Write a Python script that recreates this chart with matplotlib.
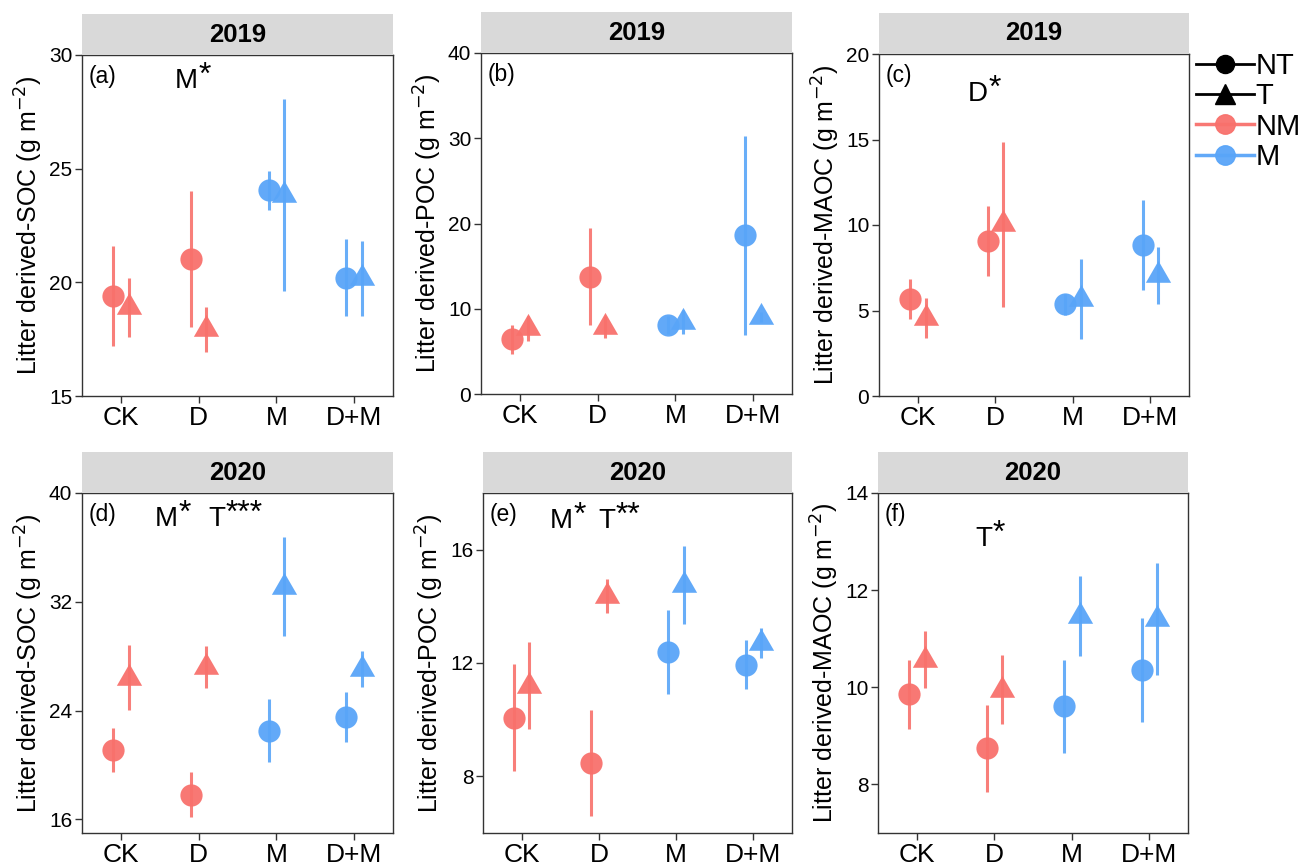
import matplotlib
matplotlib.use("Agg")
import matplotlib.pyplot as plt
from matplotlib.lines import Line2D
import numpy as np

plt.rcParams['font.family'] = ['Liberation Sans', 'DejaVu Sans']

categories = ["CK", "D", "M", "D+M"]
manure = ["NM", "NM", "M", "M"]  # colour group of each category

# panel (a) 2019 SOC
soc19_nt = [19.4, 21.03, 24.04, 20.21]
soc19_nt_se = [2.2, 2.98, 0.85, 1.69]
soc19_t = [18.9, 17.94, 23.84, 20.18]
soc19_t_se = [1.31, 0.99, 4.22, 1.66]
# panel (b) 2019 POC
poc19_nt = [6.43, 13.78, 8.1, 18.63]
poc19_nt_se = [1.7, 5.73, 1.1, 11.67]
poc19_t = [7.7, 7.9, 8.4, 9.0]
poc19_t_se = [1.5, 1.3, 1.4, 0.6]
# panel (c) 2019 MAOC
maoc19_nt = [5.66, 9.07, 5.36, 8.83]
maoc19_nt_se = [1.16, 2.05, 0.63, 2.63]
maoc19_t = [4.56, 10.03, 5.66, 7.06]
maoc19_t_se = [1.19, 4.81, 2.33, 1.68]
# panel (d) 2020 SOC
soc20_nt = [21.1, 17.83, 22.53, 23.51]
soc20_nt_se = [1.6, 1.66, 2.32, 1.85]
soc20_t = [26.43, 27.22, 33.11, 27.04]
soc20_t_se = [2.36, 1.56, 3.62, 1.34]
# panel (e) 2020 POC
poc20_nt = [10.07, 8.46, 12.39, 11.94]
poc20_nt_se = [1.89, 1.87, 1.49, 0.86]
poc20_t = [11.2, 14.38, 14.74, 12.7]
poc20_t_se = [1.54, 0.6, 1.38, 0.52]
# panel (f) 2020 MAOC
maoc20_nt = [9.86, 8.74, 9.61, 10.35]
maoc20_nt_se = [0.71, 0.89, 0.96, 1.07]
maoc20_t = [10.57, 9.95, 11.47, 11.41]
maoc20_t_se = [0.59, 0.71, 0.82, 1.15]

years = ["2019", "2019", "2019", "2020", "2020", "2020"]
tags = ["(a)", "(b)", "(c)", "(d)", "(e)", "(f)"]
ylabels = ["Litter derived-SOC (g m$^{-2}$)", "Litter derived-POC (g m$^{-2}$)",
           "Litter derived-MAOC (g m$^{-2}$)"] * 2
# significance labels: (factor, stars, x fraction, y fraction)
signif = [
    [("M", "*", 0.299, 0.925)],
    [],
    [("D", "*", 0.287, 0.884)],
    [("M", "*", 0.235, 0.924), ("T", "***", 0.405, 0.924)],
    [("M", "*", 0.217, 0.918), ("T", "**", 0.372, 0.918)],
    [("T", "*", 0.313, 0.865)],
]
ylims = [(15, 30), (0, 40), (0, 20), (15, 40), (6, 18), (7, 14)]
yticks = [[15, 20, 25, 30], [0, 10, 20, 30, 40], [0, 5, 10, 15, 20],
          [16, 24, 32, 40], [8, 12, 16], [8, 10, 12, 14]]

nt_vals = [soc19_nt, poc19_nt, maoc19_nt, soc20_nt, poc20_nt, maoc20_nt]
nt_ses = [soc19_nt_se, poc19_nt_se, maoc19_nt_se, soc20_nt_se, poc20_nt_se, maoc20_nt_se]
t_vals = [soc19_t, poc19_t, maoc19_t, soc20_t, poc20_t, maoc20_t]
t_ses = [soc19_t_se, poc19_t_se, maoc19_t_se, soc20_t_se, poc20_t_se, maoc20_t_se]

colors = {"NM": "#F8716C", "M": "#59A5F8"}
tri = [(0, 1), (-0.866, -0.5), (0.866, -0.5)]

W, H = 1308, 865
fig = plt.figure(figsize=(W / 100, H / 100), dpi=100)

boxes = [(82, 393, 55, 396), (481, 792, 53, 394), (879, 1189, 54, 396),
         (82, 393, 493, 833), (483, 792, 493, 833), (878, 1188, 493, 833)]
strip_h = 41

x = np.arange(1, len(categories) + 1)
for i, (l, r, t, b) in enumerate(boxes):
    ax = fig.add_axes([l / W, 1 - b / H, (r - l) / W, (b - t) / H])
    # strip
    sax = fig.add_axes([l / W, 1 - t / H, (r - l) / W, strip_h / H])
    sax.set_facecolor("#D9D9D9")
    sax.set_xticks([]); sax.set_yticks([])
    for s in sax.spines.values():
        s.set_visible(False)
    sax.text(0.5, 0.5, years[i], ha="center", va="center", fontsize=18.5, fontweight="bold")

    for j in range(len(categories)):
        c = colors[manure[j]]
        ax.errorbar(x[j] - 0.1, nt_vals[i][j], yerr=nt_ses[i][j], fmt="none",
                    ecolor=c, elinewidth=2.2, alpha=0.9, zorder=2)
        ax.plot(x[j] - 0.1, nt_vals[i][j], marker="o", ms=16, color=c,
                mec="none", alpha=0.95, zorder=3)
        ax.errorbar(x[j] + 0.1, t_vals[i][j], yerr=t_ses[i][j], fmt="none",
                    ecolor=c, elinewidth=2.2, alpha=0.9, zorder=2)
        ax.plot(x[j] + 0.1, t_vals[i][j], marker=tri, ms=21, color=c,
                mec="none", alpha=0.95, zorder=3)

    ax.set_xlim(0.5, 4.5)
    ax.set_ylim(*ylims[i])
    ax.set_yticks(yticks[i])
    ax.set_xticks(x)
    ax.set_xticklabels(categories, fontsize=19)
    ax.tick_params(axis="y", labelsize=15, length=5, width=1, color="#333333", pad=2)
    ax.tick_params(axis="x", length=5, width=1, color="#333333", pad=2)
    for s in ax.spines.values():
        s.set_color("#333333")
        s.set_linewidth(1.0)
    ax.set_ylabel(ylabels[i], fontsize=18, labelpad=3)
    ax.text(0.022, 0.97, tags[i], transform=ax.transAxes, fontsize=16.5,
            ha="left", va="top")
    for letter, stars, fx, fy in signif[i]:
        base = ax.text(fx, fy, letter, transform=ax.transAxes, fontsize=20,
                       ha="left", va="center")
        ax.annotate(stars, xy=(1, 1), xycoords=base, xytext=(0.5, 5),
                    textcoords="offset points", fontsize=23, ha="left", va="top")

handles = [
    Line2D([0], [0], color="black", marker="o", ms=13, lw=2),
    Line2D([0], [0], color="black", marker="^", ms=14, lw=2),
    Line2D([0], [0], color=colors["NM"], marker="o", ms=14, lw=2.5, alpha=0.95),
    Line2D([0], [0], color=colors["M"], marker="o", ms=14, lw=2.5, alpha=0.95),
]
fig.legend(handles, ["NT", "T", "NM", "M"], loc="upper left",
           bbox_to_anchor=(1196 / W, 1 - 52 / H), frameon=False, fontsize=21,
           handlelength=2.0, handletextpad=0.05, labelspacing=0.08, borderpad=0,
           borderaxespad=0)

fig.savefig("out.png", dpi=100)
